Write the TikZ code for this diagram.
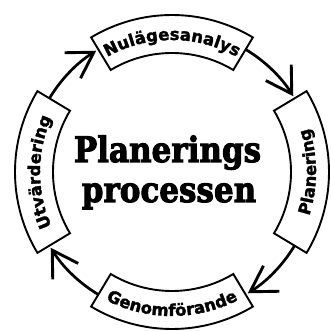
\documentclass[tikz,border=0pt]{standalone}
\usepackage{fontspec}
\newfontfamily\bandfamily{DejaVu Sans}[BoldFeatures={FakeBold=1.8}]
\newfontfamily\titlefamily{DejaVu Serif}[BoldFeatures={FakeBold=3}]
\usetikzlibrary{arrows.meta,decorations.text}
\begin{document}
\begin{tikzpicture}[x=1pt,y=1pt,
  band/.style={draw=black, line width=1.9pt, fill=white, line join=miter},
  flow/.style={line width=2.7pt, -{Straight Barb[length=25pt,width=30pt,line width=2.9pt]}},
  bandtext/.style={decorate, font=\bandfamily\bfseries\fontsize{16.5}{18}\selectfont,
      decoration={text along path, text align=center,
      text={|\bandfamily\bfseries\fontsize{16.5}{18}\selectfont|#1}}},
  title/.style={font=\titlefamily\bfseries\fontsize{31}{33}\selectfont, inner sep=0pt, anchor=base}
]
\useasboundingbox[fill=white] (-172,-159) rectangle (158,172);

% arrow end points
\coordinate (a1) at (59:143);
\coordinate (a2) at (-31:143);
\coordinate (a3) at (239:143);
\coordinate (a4) at (149:143);

% bands
\draw[band] (59:119) arc[start angle=59,end angle=121,radius=119] -- (121:157) arc[start angle=121,end angle=59,radius=157] -- cycle;
\draw[band] (-31:119) arc[start angle=-31,end angle=31,radius=119] -- (31:157) arc[start angle=31,end angle=-31,radius=157] -- cycle;
\draw[band] (239:119) arc[start angle=239,end angle=301,radius=119] -- (301:157) arc[start angle=301,end angle=239,radius=157] -- cycle;
\draw[band] (149:119) arc[start angle=149,end angle=211,radius=119] -- (211:157) arc[start angle=211,end angle=149,radius=157] -- cycle;

% band texts
\path[bandtext=Nulägesanalys] (122:132) arc[start angle=122,end angle=58,radius=132];
\path[bandtext=Planering] (-32:144) arc[start angle=-32,end angle=32,radius=144];
\path[bandtext=Genomförande] (238:144) arc[start angle=238,end angle=302,radius=144];
\path[bandtext=Utvärdering] (212:132) arc[start angle=212,end angle=148,radius=132];

% connectors
\draw[flow] (a1) arc[start angle=59,end angle=32,radius=143];
\draw[flow] (a2) arc[start angle=-31,end angle=-58,radius=143];
\draw[flow] (a3) arc[start angle=239,end angle=212,radius=143];
\draw[flow] (a4) arc[start angle=149,end angle=122,radius=143];

% title
\node[title] (t1) at (-4.5,10) {\scalebox{1}[1.13]{Planerings}};
\node[title] (t2) at (-3,-30) {\scalebox{1}[1.13]{processen}};
\end{tikzpicture}
\end{document}
